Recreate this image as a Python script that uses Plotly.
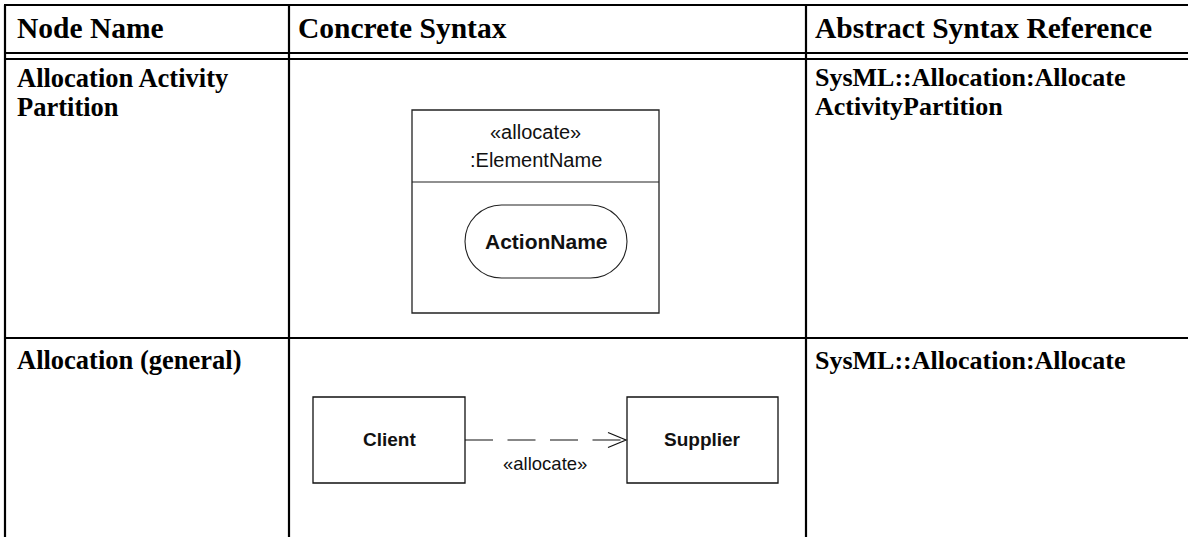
import plotly.graph_objects as go

W, H = 1188, 537

# ---- table content ----
headers = ["Node Name", "Concrete Syntax", "Abstract Syntax Reference"]
node_names = [["Allocation Activity", "Partition"], ["Allocation (general)"]]
abstract_refs = [["SysML::Allocation:Allocate", "ActivityPartition"], ["SysML::Allocation:Allocate"]]

# diagram labels
partition_stereo = "«allocate»"
partition_name = ":ElementName"
action_name = "ActionName"
client_name = "Client"
supplier_name = "Supplier"
dep_label = "«allocate»"

# ---- layout geometry (pixels) ----
col_x = [5, 289, 806]          # vertical rule positions
top_y = 5
head_y = [53, 59]               # double rule under header
row_y = 338                     # rule between rows
text_x = [17, 298, 815]
row_text_y = [[77.5, 106.5], [360]]

SERIF = "Liberation Serif"
SANS = "Liberation Sans"
THICK = 2.2

fig = go.Figure()
fig.add_trace(go.Scatter(x=[0, W], y=[0, H], mode="markers",
                         marker=dict(opacity=0), hoverinfo="skip", showlegend=False))

shapes = []
def line(x0, y0, x1, y1, w=1, color="black", dash=None):
    d = dict(type="line", x0=x0, y0=y0, x1=x1, y1=y1, xref="x", yref="y",
             line=dict(color=color, width=w))
    if dash:
        d["line"]["dash"] = dash
    shapes.append(d)

def rect(x0, y0, x1, y1, w=1, color="black"):
    shapes.append(dict(type="rect", x0=x0, y0=y0, x1=x1, y1=y1, xref="x", yref="y",
                       line=dict(color=color, width=w), fillcolor="rgba(0,0,0,0)"))

# table rules
line(col_x[0] - 1, top_y, W, top_y, THICK)
for yy in head_y:
    line(col_x[0] - 1, yy, W, yy, THICK)
line(col_x[0] - 1, row_y, W, row_y, THICK)
for xx in col_x:
    line(xx, top_y, xx, H, THICK)

# partition box
px0, py0, px1, py1, pdiv = 412, 110, 659, 313, 182
rect(px0, py0, px1, py1, 1.3, "#222")
line(px0, pdiv, px1, pdiv, 1.1, "#222")

# action capsule
ax0, ay0, ax1, ay1 = 465, 205, 627, 278
r = (ay1 - ay0) / 2
k = 0.5523 * r
cy = (ay0 + ay1) / 2
path = (f"M {ax0 + r},{ay0} L {ax1 - r},{ay0} "
        f"C {ax1 - r + k},{ay0} {ax1},{cy - k} {ax1},{cy} "
        f"C {ax1},{cy + k} {ax1 - r + k},{ay1} {ax1 - r},{ay1} "
        f"L {ax0 + r},{ay1} "
        f"C {ax0 + r - k},{ay1} {ax0},{cy + k} {ax0},{cy} "
        f"C {ax0},{cy - k} {ax0 + r - k},{ay0} {ax0 + r},{ay0} Z")
shapes.append(dict(type="path", path=path, xref="x", yref="y",
                   line=dict(color="#222", width=1.1)))

# client / supplier boxes
cbox = (313, 397, 465, 483)
sbox = (627, 397, 778, 483)
rect(*cbox, 1.3, "#111")
rect(*sbox, 1.3, "#111")
dy = 440
line(cbox[2], dy, sbox[0] - 1, dy, 1.2, "#111", dash="28px,14.5px")
shapes.append(dict(type="path", path=f"M 608,432.5 L {sbox[0]-1},{dy} L 608,447.5",
                   xref="x", yref="y", line=dict(color="#111", width=1.2)))

ann = []
def text(x, y, s, size, family, bold=False, xanchor="left", color="black"):
    ann.append(dict(x=x, y=y, xref="x", yref="y", text=(f"<b>{s}</b>" if bold else s),
                    showarrow=False, xanchor=xanchor, yanchor="middle",
                    font=dict(family=family, size=size, color=color), align="left"))

# headers
for tx, h in zip(text_x, headers):
    text(tx - 2, 27.5, h, 29.5, SERIF, bold=True)

# rows
for ri in range(2):
    for li, yy in enumerate(row_text_y[ri]):
        if li < len(node_names[ri]):
            text(text_x[0] - 2, yy, node_names[ri][li], 26.5, SERIF, bold=True)
        if li < len(abstract_refs[ri]):
            text(text_x[2] - 2, yy, abstract_refs[ri][li], 26, SERIF, bold=True)

# diagram text
midx = (px0 + px1) / 2
text(midx, 132, partition_stereo, 20, SANS, xanchor="center", color="#111")
text(midx, 160, partition_name, 20, SANS, xanchor="center", color="#111")
text((ax0 + ax1) / 2, 241, action_name, 21, SANS, bold=True, xanchor="center", color="#111")
text((cbox[0] + cbox[2]) / 2, 439.5, client_name, 19, SANS, bold=True, xanchor="center", color="#111")
text((sbox[0] + sbox[2]) / 2, 439.5, supplier_name, 19, SANS, bold=True, xanchor="center", color="#111")
text(545, 463, dep_label, 18.5, SANS, xanchor="center", color="#111")

fig.update_layout(
    width=W, height=H, margin=dict(l=0, r=0, t=0, b=0),
    paper_bgcolor="white", plot_bgcolor="white",
    xaxis=dict(range=[0, W], visible=False, fixedrange=True),
    yaxis=dict(range=[H, 0], visible=False, fixedrange=True),
    shapes=shapes, annotations=ann, showlegend=False,
)
fig.write_html("out.html", config={"displayModeBar": False},
               post_script="document.body.style.margin='0';document.body.style.overflow='hidden';")
